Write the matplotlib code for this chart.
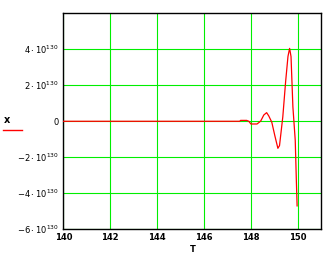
import numpy as np
import matplotlib
matplotlib.use("Agg")
import matplotlib.pyplot as plt

# curve values (y in units of 1e130)
t_vals = [140.0, 147.52, 147.56, 147.82, 147.91, 148.0, 148.26, 148.34, 148.42,
          148.55, 148.67, 148.76, 148.89, 149.02, 149.15, 149.22, 149.36, 149.48,
          149.58, 149.65, 149.71, 149.79, 149.89, 149.94, 149.97]
x_vals = [0.0, 0.0, 0.05, 0.05, 0.0, -0.15, -0.15, -0.07, 0.02,
          0.35, 0.48, 0.3, -0.05, -0.8, -1.5, -1.35, 0.25, 2.2,
          3.6, 4.05, 3.6, 0.8, -1.05, -3.4, -4.7]
x_ticks = [140, 142, 144, 146, 148, 150]
y_ticks = [-6, -4, -2, 0, 2, 4]
y_labels = [r"$-6\cdot10^{130}$", r"$-4\cdot10^{130}$", r"$-2\cdot10^{130}$", "0",
            r"$2\cdot10^{130}$", r"$4\cdot10^{130}$"]

fig = plt.figure(figsize=(3.35, 2.59), dpi=100)
ax = fig.add_axes([0.189, 0.1147, 0.770, 0.834])
ax.plot(t_vals, x_vals, color="#ff0000", lw=0.9, zorder=3)
ax.set_xlim(140, 151)
ax.set_ylim(-6, 6)
ax.set_xticks(x_ticks)
ax.set_xticklabels([str(v) for v in x_ticks], fontsize=6, fontweight="bold")
ax.set_yticks(y_ticks)
ax.set_yticklabels(y_labels, fontsize=6)
ax.tick_params(length=0, pad=3)
ax.grid(True, color="#00ee00", lw=0.8)
for s in ax.spines.values():
    s.set_linewidth(1.0)
    s.set_color("black")

fig.text(0.576, 0.02, "T", fontsize=6, fontweight="bold", ha="center", va="bottom")
fig.text(0.022, 0.535, "x", fontsize=7, fontweight="bold", ha="center", va="center")
fig.add_artist(plt.Line2D([0.009, 0.066], [0.498, 0.498], color="#ff0000", lw=1.0,
                          transform=fig.transFigure))

fig.savefig("out.png", dpi=100)
